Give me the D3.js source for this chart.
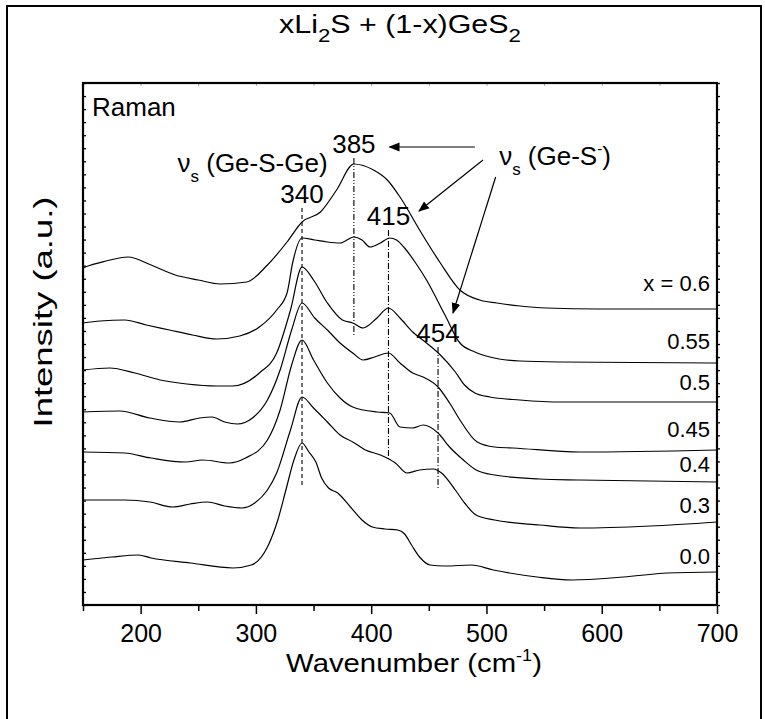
<!DOCTYPE html>
<html>
<head>
<meta charset="utf-8">
<script src="https://cdnjs.cloudflare.com/ajax/libs/d3/7.8.5/d3.min.js"></script>
<style>
  body { margin: 0; background: #fff; }
  text { font-family: Arial, "Liberation Sans", sans-serif; fill: #000; }
</style>
</head>
<body>
<div id="chart"></div>
<script>
// spectra: [wavenumber cm-1, intensity a.u. (offset already in)]
const x060 = [[150,337],[152,338],[170,344],[189,348],[209,340],[230,330],[250,325],[269,321],[292,323],[310,340],[327,363],[340,383],[356,393],[370,415],[385,441],[402,435],[414,425],[425,408],[442,375],[460,342],[477,315],[494,305],[509,302],[529,299],[552,297],[598,296],[700,296]];
const x055 = [[150,282],[165,284],[186,285],[205,280],[225,275],[245,270],[266,266],[286,269],[303,278],[318,295],[327,312],[332,343],[340,367],[351,365],[362,363],[373,362],[385,368],[392,365],[399,358],[408,362],[416,367],[422,365],[429,357],[438,343],[448,325],[464,290],[477,262],[490,253],[503,248],[529,244],[564,243],[700,242]];
const x050 = [[150,235],[173,237],[195,232],[217,225],[240,221],[266,219],[280,219],[303,232],[318,252],[330,295],[340,338],[350,325],[362,302],[375,285],[384,282],[393,277],[405,287],[415,297],[425,287],[436,273],[448,262],[460,250],[473,233],[481,220],[490,212],[503,208],[529,205],[564,203],[700,203]];
const x045 = [[150,193],[182,194],[208,187],[234,183],[251,187],[262,188],[273,183],[284,181],[297,187],[310,205],[321,235],[331,275],[340,302],[351,287],[362,275],[373,262],[384,252],[393,245],[403,248],[415,252],[425,242],[436,232],[445,228],[458,218],[468,202],[477,185],[492,163],[507,158],[523,157],[581,153],[700,155]];
const x040 = [[150,153],[186,152],[209,147],[239,143],[254,145],[277,142],[291,147],[310,165],[321,195],[331,240],[340,265],[350,245],[362,222],[373,207],[384,198],[405,193],[416,192],[425,178],[436,177],[445,180],[458,172],[468,158],[480,145],[491,135],[507,130],[546,126],[581,125],[700,123]];
const x030 = [[150,105],[186,105],[208,103],[228,98],[243,101],[258,103],[273,99],[288,97],[299,102],[310,115],[318,132],[330,175],[340,208],[350,197],[362,183],[373,170],[384,163],[395,155],[408,150],[421,142],[431,132],[442,135],[454,136],[461,132],[473,115],[481,102],[491,90],[507,85],[546,80],[581,77],[642,79],[700,83]];
const x000 = [[150,45],[175,48],[198,50],[209,47],[243,42],[280,37],[296,40],[310,58],[319,85],[326,115],[333,145],[340,162],[346,153],[352,143],[357,127],[363,117],[371,112],[382,98],[392,85],[401,78],[412,76],[423,75],[429,71],[435,60],[442,48],[451,40],[464,39],[487,40],[506,35],[544,28],[574,25],[619,28],[657,32],[700,33]];

const seriesData = [x060, x055, x050, x045, x040, x030, x000];
const seriesNames = ["x = 0.6", "0.55", "0.5", "0.45", "0.4", "0.3", "0.0"];
const seriesLabelY = [314, 256, 215, 168, 133, 92, 41];

const xMajor = [200, 300, 400, 500, 600, 700];
const xMinor = [150, 250, 350, 450, 550, 650];

// peak markers
const peakPos = [340, 385, 415, 458];
const peakText = ["340", "385", "415", "454"];
const peakTop = [397, 447, 375, 258];
const peakBottom = [120, 268, 145, 116];
const peakDash = ["4,3", "6,2,1,2,1,2", "6,2,1,2", "6,2,1,2"];

// arrows from the Ge-S- label: [from wn, from int, to wn, to int]
const arrows = [[490, 458, 416, 458], [497, 445, 441.5, 394], [508, 428, 471, 292]];

drawChart();

function drawChart() {
    const width = 765, height = 719;
    const margin = {left: 83, top: 83, right: 48, bottom: 114};

    let svg = d3.select("#chart")
        .append("svg")
        .attr("width", width)
        .attr("height", height);

    // outer frame
    svg.append("rect")
        .attr("x", 7).attr("y", 6)
        .attr("width", 754).attr("height", 740)
        .attr("fill", "none")
        .attr("stroke", "#000")
        .attr("stroke-width", 2);

    let x = d3.scaleLinear().domain([150, 700]).range([margin.left, width - margin.right]);
    let y = d3.scaleLinear().domain([0, 522]).range([height - margin.bottom, margin.top]);
    let yTicks = d3.range(0, 523, 13.05);

    // top ticks (faint)
    svg.append("g")
        .attr("transform", "translate(0," + margin.top + ")")
        .call(d3.axisBottom(x).tickValues(d3.range(150, 701, 50)).tickSize(3).tickFormat(""))
        .call(g => g.select(".domain").remove())
        .selectAll("line").attr("stroke", "#aaa");

    // left ticks inward
    svg.append("g")
        .attr("transform", "translate(" + margin.left + ",0)")
        .call(d3.axisRight(y).tickValues(yTicks).tickSize(3).tickFormat(""))
        .call(g => g.select(".domain").remove())
        .selectAll("line").attr("stroke-width", 1.3);

    // right ticks
    svg.append("g")
        .attr("transform", "translate(" + (width - margin.right) + ",0)")
        .call(d3.axisRight(y).tickValues(yTicks).tickSize(3).tickFormat(""))
        .call(g => g.select(".domain").remove())
        .selectAll("line").attr("stroke-width", 1.3);

    // bottom minor
    svg.append("g")
        .attr("transform", "translate(0," + (height - margin.bottom) + ")")
        .call(d3.axisBottom(x).tickValues(xMinor).tickSize(6).tickFormat(""))
        .call(g => g.select(".domain").remove())
        .selectAll("line").attr("stroke-width", 1.5);

    // bottom major with labels
    let xAxis = svg.append("g")
        .attr("transform", "translate(0," + (height - margin.bottom) + ")")
        .call(d3.axisBottom(x).tickValues(xMajor).tickSize(9).tickPadding(10));
    xAxis.select(".domain").remove();
    xAxis.selectAll("line").attr("stroke-width", 1.5);
    xAxis.selectAll("text")
        .style("font-size", "25px")
        .style("font-family", "Arial, 'Liberation Sans', sans-serif");

    // plot box
    svg.append("rect")
        .attr("x", x(150)).attr("y", y(522))
        .attr("width", x(700) - x(150))
        .attr("height", y(0) - y(522))
        .attr("fill", "none")
        .attr("stroke", "#000")
        .attr("stroke-width", 2.2);

    // peak position lines
    svg.append("g")
        .selectAll("line")
        .data(peakPos)
        .enter()
        .append("line")
        .attr("x1", d => x(d)).attr("x2", d => x(d))
        .attr("y1", (d, i) => y(peakTop[i]))
        .attr("y2", (d, i) => y(peakBottom[i]))
        .attr("stroke", "#000")
        .attr("stroke-width", 1.1)
        .attr("stroke-dasharray", (d, i) => peakDash[i]);

    svg.append("g")
        .selectAll("text")
        .data(peakPos)
        .enter()
        .append("text")
        .attr("x", d => x(d))
        .attr("y", (d, i) => y(peakTop[i]) - 5)
        .attr("text-anchor", "middle")
        .style("font-size", "26px")
        .text((d, i) => peakText[i]);

    // spectra
    let line = d3.line()
        .x(d => x(d[0]))
        .y(d => y(d[1]))
        .curve(d3.curveMonotoneX);

    svg.append("g")
        .selectAll("path")
        .data(seriesData)
        .enter()
        .append("path")
        .attr("d", line)
        .attr("fill", "none")
        .attr("stroke", "#000")
        .attr("stroke-width", 1.2);

    svg.append("g")
        .selectAll("text")
        .data(seriesNames)
        .enter()
        .append("text")
        .attr("x", x(700) - 7)
        .attr("y", (d, i) => y(seriesLabelY[i]))
        .attr("text-anchor", "end")
        .style("font-size", "22px")
        .text(d => d);

    // arrows
    let defs = svg.append("defs");
    defs.append("marker")
        .attr("id", "arrowhead")
        .attr("viewBox", "0 0 10 10")
        .attr("refX", 9).attr("refY", 5)
        .attr("markerWidth", 11).attr("markerHeight", 11)
        .attr("markerUnits", "userSpaceOnUse")
        .attr("orient", "auto")
        .append("path")
        .attr("d", "M0,1 L10,5 L0,9 z")
        .attr("fill", "#000");

    svg.append("g")
        .selectAll("line")
        .data(arrows)
        .enter()
        .append("line")
        .attr("x1", d => x(d[0])).attr("y1", d => y(d[1]))
        .attr("x2", d => x(d[2])).attr("y2", d => y(d[3]))
        .attr("stroke", "#000")
        .attr("stroke-width", 1.2)
        .attr("marker-end", "url(#arrowhead)");

    // mode labels
    let lab1 = svg.append("text")
        .attr("x", x(232)).attr("y", y(433))
        .style("font-size", "26px");
    lab1.append("tspan").text("\u03bd");
    lab1.append("tspan").attr("dy", 10).style("font-size", "17px").text("s");
    lab1.append("tspan").attr("dy", -10).text(" (Ge-S-Ge)");

    let lab2 = svg.append("text")
        .attr("x", x(511)).attr("y", y(440))
        .style("font-size", "26px");
    lab2.append("tspan").text("\u03bd");
    lab2.append("tspan").attr("dy", 10).style("font-size", "17px").text("s");
    lab2.append("tspan").attr("dy", -10).text(" (Ge-S");
    lab2.append("tspan").attr("dy", -11).style("font-size", "15px").text("-");
    lab2.append("tspan").attr("dy", 11).text(")");

    svg.append("text")
        .attr("x", margin.left + 9)
        .attr("y", margin.top + 33)
        .style("font-size", "26px")
        .text("Raman");

    // title
    let title = svg.append("g").attr("transform", "translate(400,33)");
    let tt = title.append("text").attr("text-anchor", "middle").style("font-size", "26px");
    tt.append("tspan").text("xLi");
    tt.append("tspan").attr("dy", 9).style("font-size", "19px").text("2");
    tt.append("tspan").attr("dy", -9).text("S + (1-x)GeS");
    tt.append("tspan").attr("dy", 9).style("font-size", "19px").text("2");
    stretch(title, tt, 242);

    // x title
    let xt = svg.append("g").attr("transform", "translate(414,672)");
    let xtt = xt.append("text").attr("text-anchor", "middle").style("font-size", "26px");
    xtt.append("tspan").text("Wavenumber (cm");
    xtt.append("tspan").attr("dy", -11).style("font-size", "16px").text("-1");
    xtt.append("tspan").attr("dy", 11).text(")");
    stretch(xt, xtt, 256);

    // y title
    let yt = svg.append("g").attr("transform", "translate(52,312) rotate(-90)");
    let ytt = yt.append("text").attr("text-anchor", "middle").style("font-size", "26px")
        .text("Intensity (a.u.)");
    stretch(yt, ytt, 231);
}

function stretch(g, t, target) {
    let w = t.node().getBBox().width;
    if (w > 0) {
        g.attr("transform", g.attr("transform") + " scale(" + (target / w) + ",1)");
    }
}
</script>
</body>
</html>
